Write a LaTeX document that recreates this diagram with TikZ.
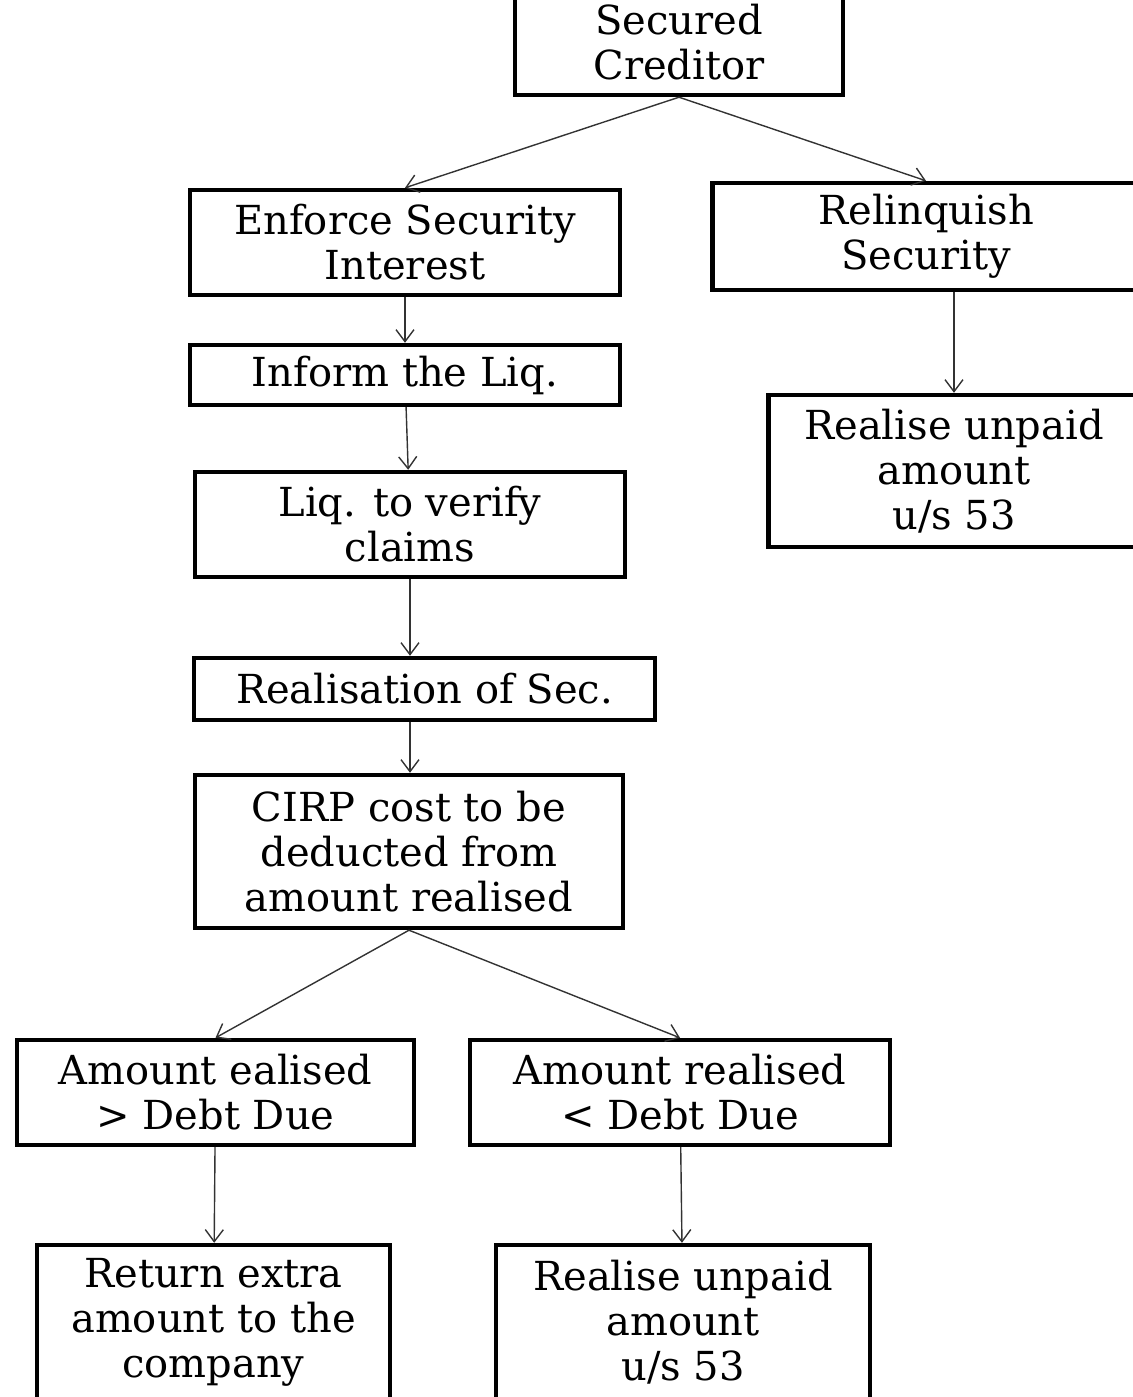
\documentclass[tikz,border=0pt]{standalone}
\usepackage{fontspec}
\setmainfont{DejaVu Serif}
\usepackage{tikz}
\usetikzlibrary{arrows.meta,positioning}

\begin{document}
\begin{tikzpicture}[x=0.5pt, y=-0.5pt, every node/.style={font=\fontsize{20pt}{22.5pt}\selectfont}, box/.style={draw, line width=2.2pt, align=center, inner sep=0pt}, arr/.style={-{Straight Barb[length=6pt, width=9pt]}, line width=0.7pt, black!80}]
\useasboundingbox (0,0) rectangle (1132,1397);
\node[box, minimum width=164pt, minimum height=53pt] (sec) at (679,42) {Secured\\Creditor};
\node[box, minimum width=215pt, minimum height=52.5pt] (enf) at (405,242.5) {Enforce Security\\Interest};
\node[box, minimum width=213.5pt, minimum height=53.5pt] (rel) at (926,236.5) {Relinquish\\Security};
\node[box, minimum width=215pt, minimum height=30pt] (inf) at (405,375) {Inform the Liq.};
\node[box, minimum width=215pt, minimum height=52.5pt] (liq) at (410,524.5) {Liq. to verify\\claims};
\node[box, minimum width=230.5pt, minimum height=31pt] (rea) at (424.5,689) {Realisation of Sec.};
\node[box, minimum width=214pt, minimum height=76.5pt] (cirp) at (409,851.5) {CIRP cost to be\\deducted from\\amount realised};
\node[box, minimum width=185.5pt, minimum height=76pt] (unpaidA) at (954,471) {Realise unpaid\\amount\\u/s 53};
\node[box, minimum width=198.5pt, minimum height=52.5pt] (more) at (215.5,1092.5) {Amount ealised\\> Debt Due};
\node[box, minimum width=210pt, minimum height=52.5pt] (less) at (680,1092.5) {Amount realised\\< Debt Due};
\node[box, minimum width=176.5pt, minimum height=77pt] (ret) at (213.5,1322) {Return extra\\amount to the\\company};
\node[box, minimum width=187pt, minimum height=77pt] (unpaidB) at (683,1322) {Realise unpaid\\amount\\u/s 53};
\draw[arr] (sec.south) -- (enf.north); \draw[arr] (sec.south) -- (rel.north);
\draw[arr] (enf) -- (inf); \draw[arr] (inf) -- (liq); \draw[arr] (liq) -- (rea.north -| liq); \draw[arr] (rea.south -| liq) -- (cirp.north -| liq);
\draw[arr] (unpaidA.north |- rel.south) -- (unpaidA.north);
\draw[arr] (cirp.south) -- (more.north); \draw[arr] (cirp.south) -- (less.north);
\draw[arr] (more) -- (ret); \draw[arr] (less) -- (unpaidB);
\end{tikzpicture}
\end{document}
